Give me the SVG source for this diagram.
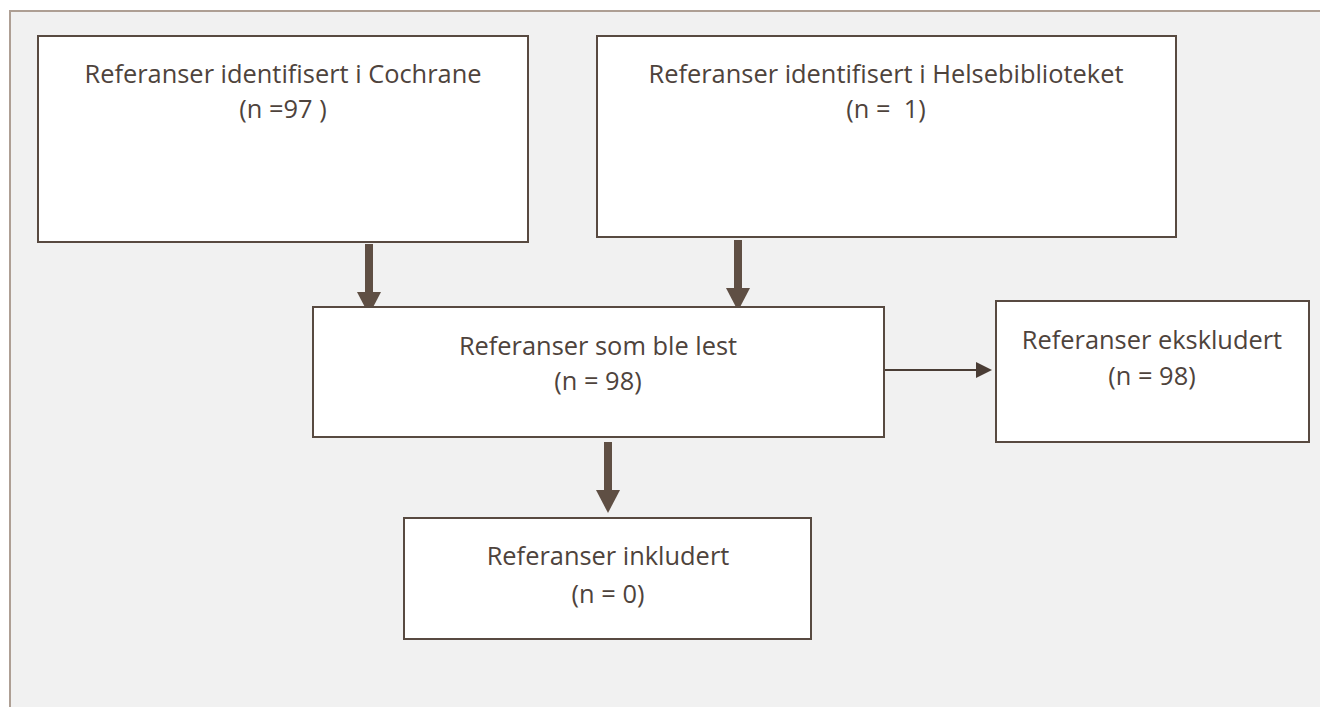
<svg xmlns="http://www.w3.org/2000/svg" width="1320" height="707" viewBox="0 0 1320 707">
<style>
.box{fill:#ffffff;stroke:#584a41;stroke-width:2}
.t{font-family:"Open Sans","Noto Sans",sans-serif;font-size:25.4px;fill:#4e433c;text-anchor:middle}
.thick{stroke:#5f4f44;stroke-width:8;fill:none}
.head{fill:#5f4f44}
.thin{stroke:#4a3d35;stroke-width:2;fill:none}
</style>
<rect x="0" y="0" width="1320" height="707" fill="#ffffff"/>
<rect x="10" y="11" width="1320" height="710" fill="#f1f1f1" stroke="#ae9f94" stroke-width="2"/>
<g id="connectors">
<line class="thick" x1="369" y1="244" x2="369" y2="293"/>
<path class="head" d="M357,292 L381,292 L369,315 z"/>
<line class="thick" x1="738" y1="240" x2="738" y2="289"/>
<path class="head" d="M726,288 L750,288 L738,311 z"/>
<line class="thick" x1="608" y1="442" x2="608" y2="491"/>
<path class="head" d="M596,490 L620,490 L608,513 z"/>
<line class="thin" x1="885" y1="370" x2="976" y2="370"/>
<path d="M976,362 L992,370 L976,378 z" fill="#4a3d35"/>
</g>
<g id="cochrane">
<rect class="box" x="38" y="36" width="490" height="206"/>
<text class="t" x="283" y="83">Referanser identifisert i Cochrane</text>
<text class="t" x="283" y="118">(n =97 )</text>
</g>
<g id="helsebiblioteket">
<rect class="box" x="597" y="36" width="579" height="201"/>
<text class="t" x="886" y="83">Referanser identifisert i Helsebiblioteket</text>
<text class="t" x="886" y="118" xml:space="preserve">(n =  1)</text>
</g>
<g id="lest">
<rect class="box" x="313" y="307" width="571" height="130"/>
<text class="t" x="598" y="355">Referanser som ble lest</text>
<text class="t" x="598" y="390">(n = 98)</text>
</g>
<g id="ekskludert">
<rect class="box" x="996" y="301" width="313" height="141"/>
<text class="t" x="1152" y="349">Referanser ekskludert</text>
<text class="t" x="1152" y="385">(n = 98)</text>
</g>
<g id="inkludert">
<rect class="box" x="404" y="518" width="407" height="121"/>
<text class="t" x="608" y="565">Referanser inkludert</text>
<text class="t" x="608" y="603">(n = 0)</text>
</g>
</svg>
